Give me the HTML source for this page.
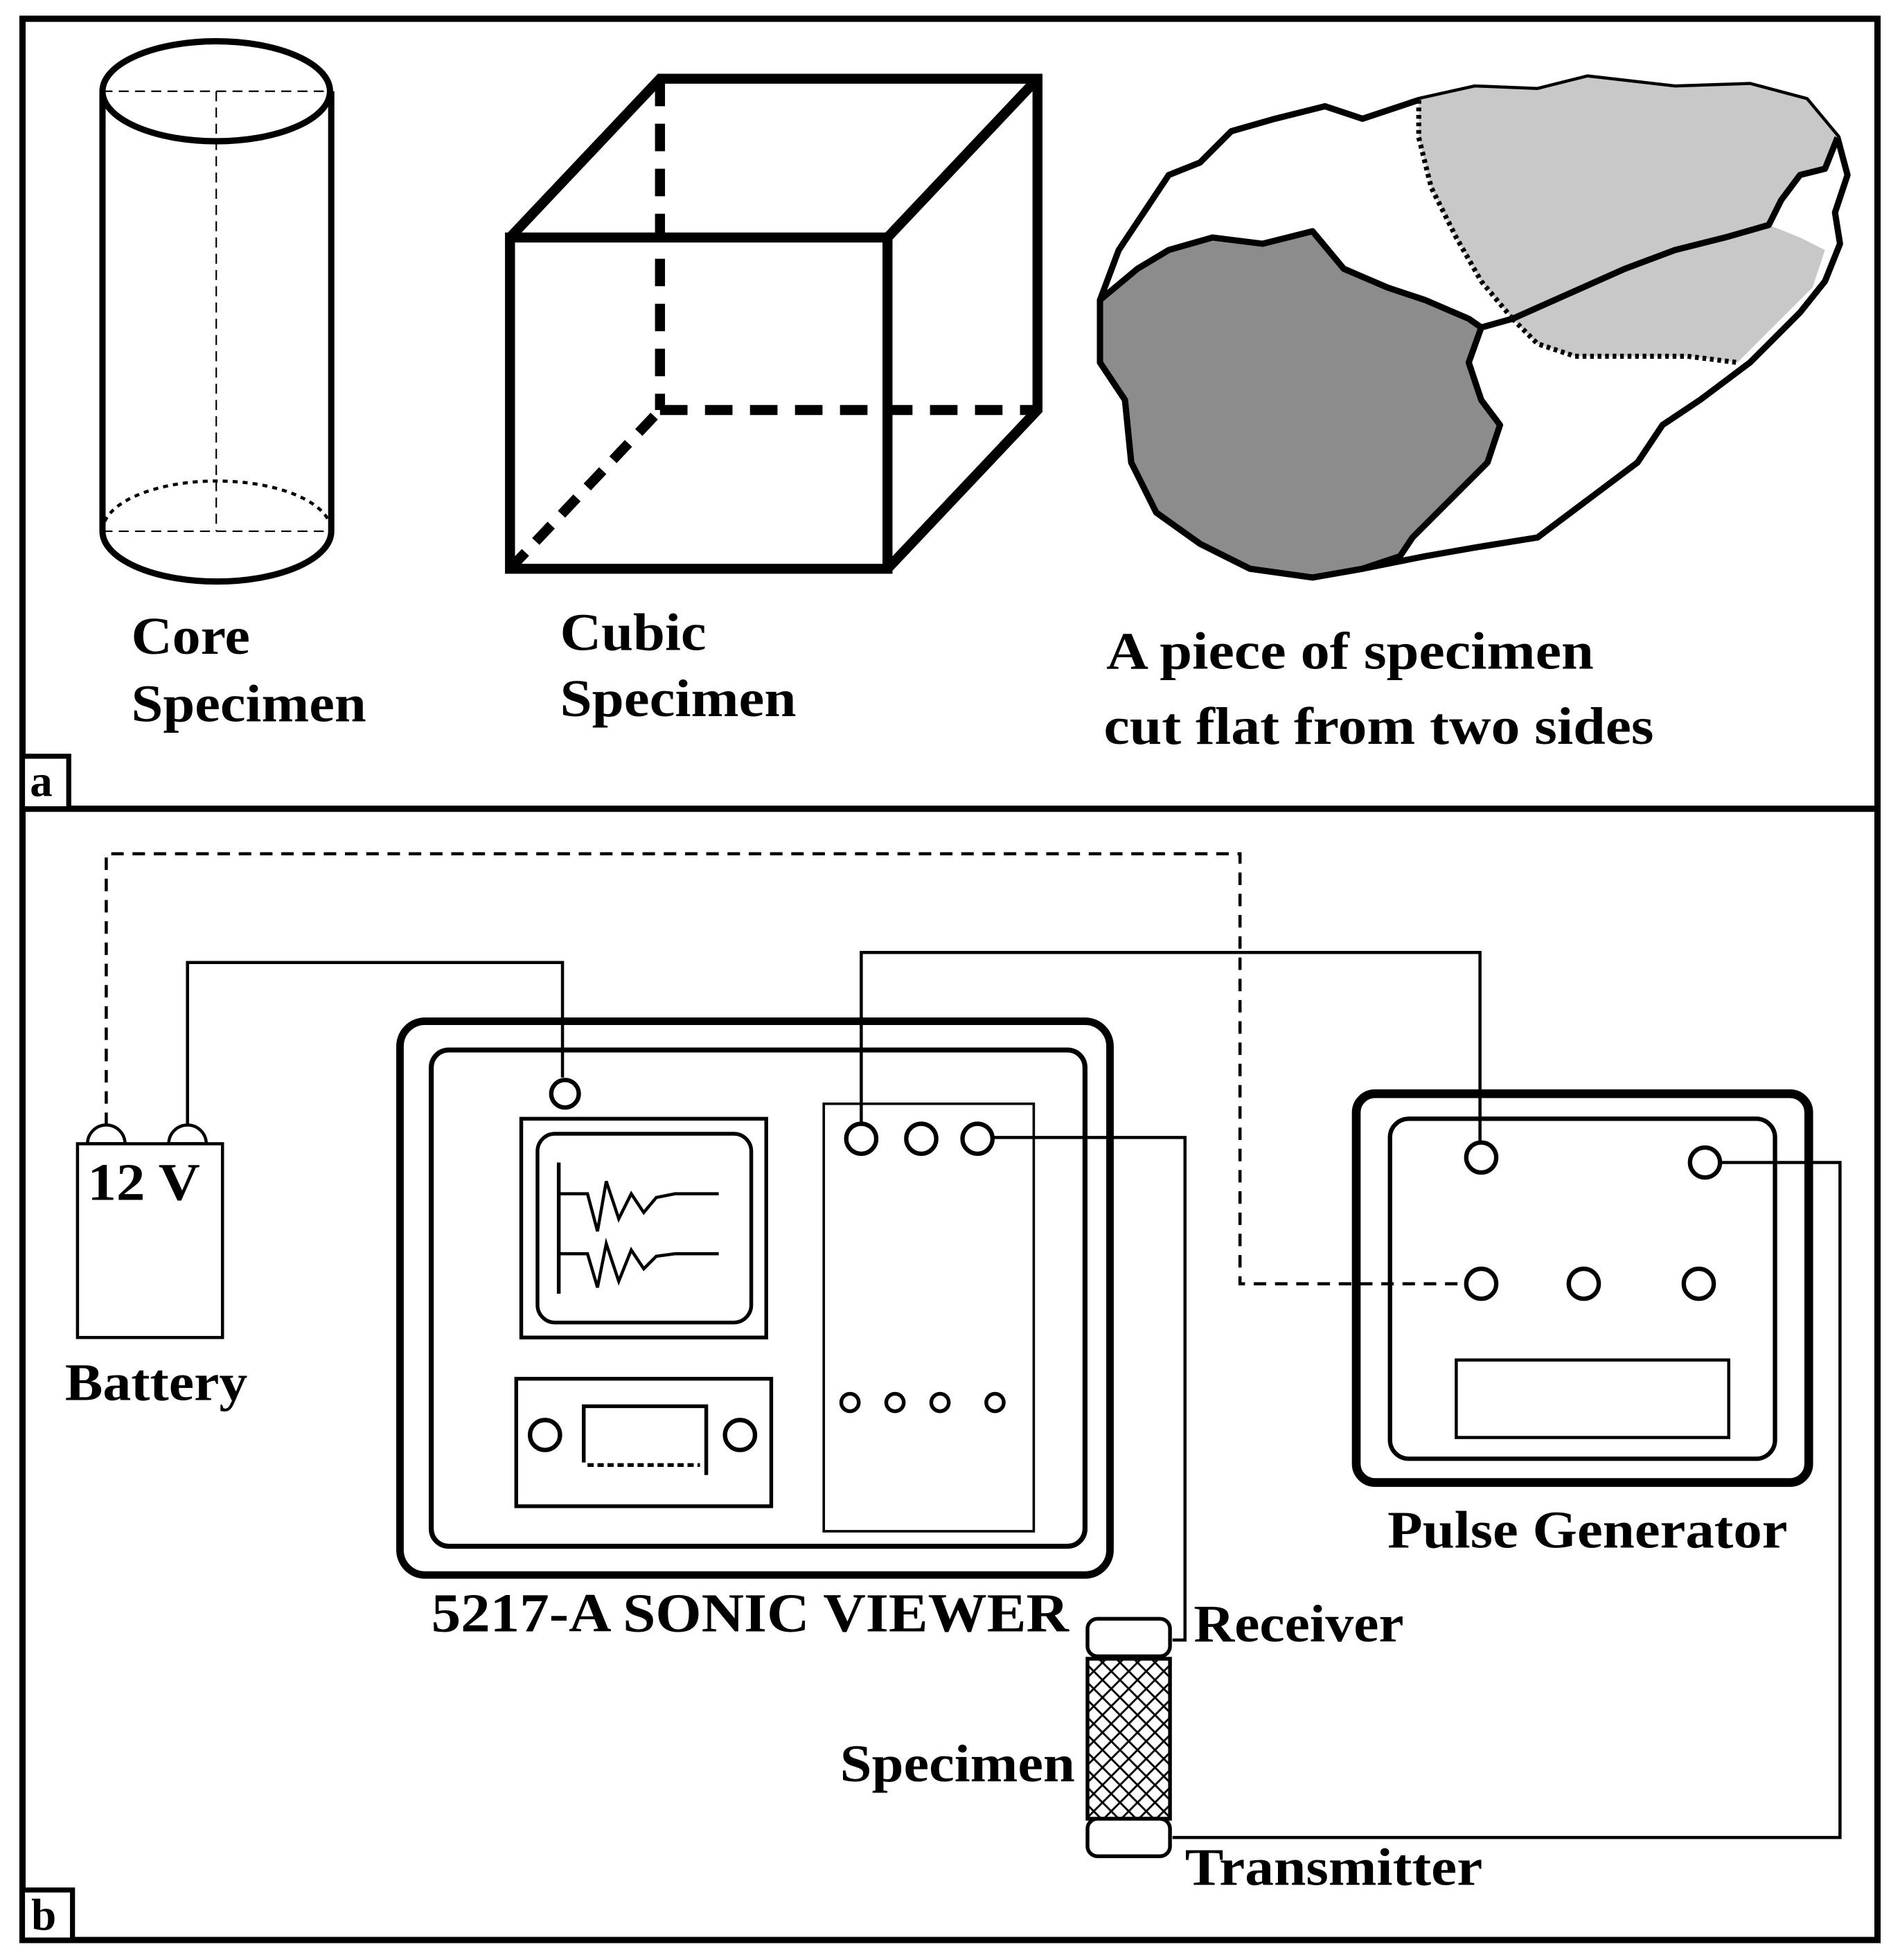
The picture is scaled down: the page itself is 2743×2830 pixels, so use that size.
<!DOCTYPE html>
<html><head><meta charset="utf-8"><style>
html,body{margin:0;padding:0;background:#fff}
svg{display:block}
text{font-family:"Liberation Serif",serif;font-weight:bold;fill:#000}
</style></head><body>
<svg width="2743" height="2830" viewBox="0 0 1520 1568" preserveAspectRatio="none" xmlns="http://www.w3.org/2000/svg">
<defs>
<pattern id="hatch" width="14" height="14" patternUnits="userSpaceOnUse">
<path d="M0 0L14 14M14 0L0 14" stroke="#000" stroke-width="1.6"/>
</pattern>
</defs>
<rect width="1520" height="1568" fill="#fff"/>
<rect x="18" y="15" width="1484" height="1537" fill="none" stroke="#000" stroke-width="5"/>
<line x1="18" y1="647" x2="1502" y2="647" stroke="#000" stroke-width="5"/>
<rect x="18" y="605" width="37" height="42" fill="#fff" stroke="#000" stroke-width="4"/>
<text x="24" y="637" font-size="36">a</text>
<rect x="18" y="1512" width="40" height="40" fill="#fff" stroke="#000" stroke-width="4"/>
<text x="25" y="1544" font-size="36">b</text>

<g fill="none" stroke="#000">
<line x1="173" y1="73" x2="173" y2="425" stroke-width="1.2" stroke-dasharray="8 5"/>
<line x1="82" y1="73" x2="265" y2="73" stroke-width="1.2" stroke-dasharray="8 5"/>
<line x1="82" y1="425" x2="265" y2="425" stroke-width="1.2" stroke-dasharray="8 5"/>
<ellipse cx="173" cy="73" rx="91" ry="40" stroke-width="5"/>
<line x1="82" y1="73" x2="82" y2="425" stroke-width="5"/>
<line x1="265" y1="73" x2="265" y2="425" stroke-width="5"/>
<path d="M82 425A91 40 0 0 0 265 425" stroke-width="5"/>
<path d="M82 425A91 40 0 0 1 265 425" stroke-width="2.5" stroke-dasharray="4 4"/>
</g>
<text x="105" y="523" font-size="42" textLength="95" lengthAdjust="spacingAndGlyphs">Core</text>
<text x="105" y="577" font-size="42" textLength="188" lengthAdjust="spacingAndGlyphs">Specimen</text>

<g fill="none" stroke="#000" stroke-width="8">
<line x1="528" y1="63" x2="528" y2="328" stroke-dasharray="22 14"/>
<line x1="528" y1="328" x2="830" y2="328" stroke-dasharray="22 14"/>
<line x1="408" y1="455" x2="528" y2="328" stroke-dasharray="18 12"/>
<rect x="408" y="190" width="302" height="265"/>
<path d="M408 190L528 63H830V328L710 455M710 190L830 63"/>
</g>
<text x="448" y="520" font-size="42" textLength="117" lengthAdjust="spacingAndGlyphs">Cubic</text>
<text x="448" y="573" font-size="42" textLength="189" lengthAdjust="spacingAndGlyphs">Specimen</text>

<g stroke="#000" stroke-linejoin="round">
<path d="M880 240L895 200L915 170L935 140L960 130L985 105L1020 95L1060 85L1090 95L1135 80L1180 70L1230 72L1270 62L1340 70L1400 68L1445 80L1470 110L1478 140L1468 170L1472 195L1460 225L1440 250L1400 290L1360 320L1330 340L1310 370L1270 400L1230 430L1180 438L1140 445L1090 455L1050 462L1000 455L960 435L925 410L905 370L900 320L880 290Z" fill="#fff" stroke-width="5"/>
<path d="M1135 80L1180 70L1230 72L1270 62L1340 70L1400 68L1445 80L1470 110L1460 135L1440 140L1425 160L1415 180L1380 190L1340 200L1300 215L1255 235L1210 255L1185 225L1165 190L1145 150L1135 110Z" fill="#c8c8c8" stroke="none"/>
<path d="M1210 255L1255 235L1300 215L1340 200L1380 190L1415 180L1440 190L1460 200L1450 230L1420 260L1390 290L1350 285L1300 285L1260 285L1230 275Z" fill="#c8c8c8" stroke="none"/>
<path d="M1135 80L1135 110L1145 150L1165 190L1185 225L1210 255" fill="none" stroke-width="4" stroke-dasharray="3 3"/>
<path d="M1210 255L1230 275L1260 285L1300 285L1350 285L1390 290" fill="none" stroke-width="4" stroke-dasharray="3 3"/>
<path d="M1470 110L1460 135L1440 140L1425 160L1415 180L1380 190L1340 200L1300 215L1255 235L1210 255L1185 262" fill="none" stroke-width="5"/>
<path d="M880 240L910 215L935 200L970 190L1010 195L1050 185L1075 215L1110 230L1140 240L1175 255L1185 262L1175 290L1185 320L1200 340L1190 370L1160 400L1130 430L1120 445L1090 455L1050 462L1000 455L960 435L925 410L905 370L900 320L880 290Z" fill="#8c8c8c" stroke-width="5"/>
</g>
<text x="885" y="535" font-size="42" textLength="390" lengthAdjust="spacingAndGlyphs">A piece of specimen</text>
<text x="883" y="595" font-size="42" textLength="440" lengthAdjust="spacingAndGlyphs">cut flat from two sides</text>

<g fill="none" stroke="#000" stroke-width="2.5">
<path d="M85 900V683H992V1027H1172" stroke-dasharray="10 7"/>
<path d="M150 900V770H450V862"/>
<path d="M689 899V762H1184V913"/>
<path d="M794 910H948V1312H938"/>
<path d="M1376 930H1472V1470H938"/>
</g>

<g fill="#fff" stroke="#000" stroke-width="2.5">
<path d="M70 915A15 15 0 0 1 100 915Z"/>
<path d="M135 915A15 15 0 0 1 165 915Z"/>
<rect x="62" y="915" width="116" height="155"/>
</g>
<text x="70" y="960" font-size="42" textLength="90" lengthAdjust="spacingAndGlyphs">12 V</text>
<text x="52" y="1120" font-size="42" textLength="146" lengthAdjust="spacingAndGlyphs">Battery</text>

<g fill="none" stroke="#000">
<rect x="320" y="817" width="568" height="443" rx="20" stroke-width="6"/>
<rect x="345" y="840" width="523" height="397" rx="14" stroke-width="4"/>
<circle cx="452" cy="875" r="11" stroke-width="3.5"/>
<rect x="417" y="895" width="196" height="175" stroke-width="3"/>
<rect x="430" y="907" width="171" height="151" rx="14" stroke-width="3"/>
<line x1="447" y1="930" x2="447" y2="1035" stroke-width="3"/>
<path d="M447 955H470L478 985L485 945L495 975L505 955L515 970L525 958L540 955H575" stroke-width="2.5"/>
<path d="M447 1003H470L478 1030L485 995L495 1025L505 1000L515 1015L525 1005L540 1003H575" stroke-width="2.5"/>
<rect x="413" y="1103" width="204" height="102" stroke-width="3"/>
<circle cx="436" cy="1148" r="12" stroke-width="3.5"/>
<circle cx="592" cy="1148" r="12" stroke-width="3.5"/>
<path d="M467 1170V1125H565V1180" stroke-width="3"/>
<path d="M470 1172H560" stroke-width="3" stroke-dasharray="5 3"/>
<rect x="659" y="883" width="168" height="342" stroke-width="2"/>
<circle cx="689" cy="911" r="12" stroke-width="3.5"/>
<circle cx="737" cy="911" r="12" stroke-width="3.5"/>
<circle cx="782" cy="911" r="12" stroke-width="3.5"/>
<circle cx="680" cy="1122" r="7" stroke-width="3"/>
<circle cx="716" cy="1122" r="7" stroke-width="3"/>
<circle cx="752" cy="1122" r="7" stroke-width="3"/>
<circle cx="796" cy="1122" r="7" stroke-width="3"/>
</g>
<text x="345" y="1305" font-size="44" textLength="510" lengthAdjust="spacingAndGlyphs">5217-A SONIC VIEWER</text>

<g fill="none" stroke="#000">
<rect x="1085" y="875" width="362" height="311" rx="15" stroke-width="7"/>
<rect x="1112" y="895" width="308" height="272" rx="15" stroke-width="3.5"/>
<circle cx="1185" cy="926" r="12" stroke-width="3.5"/>
<circle cx="1364" cy="930" r="12" stroke-width="3.5"/>
<circle cx="1185" cy="1027" r="12" stroke-width="3.5"/>
<circle cx="1267" cy="1027" r="12" stroke-width="3.5"/>
<circle cx="1359" cy="1027" r="12" stroke-width="3.5"/>
<rect x="1165" y="1088" width="218" height="62" stroke-width="2.5"/>
</g>
<text x="1110" y="1238" font-size="42" textLength="320" lengthAdjust="spacingAndGlyphs">Pulse Generator</text>

<g stroke="#000" stroke-width="3">
<rect x="870" y="1295" width="66" height="30" rx="8" fill="#fff"/>
<rect x="870" y="1327" width="66" height="128" fill="url(#hatch)"/>
<rect x="870" y="1455" width="66" height="30" rx="8" fill="#fff"/>
</g>
<text x="955" y="1313" font-size="42" textLength="168" lengthAdjust="spacingAndGlyphs">Receiver</text>
<text x="672" y="1425" font-size="42" textLength="188" lengthAdjust="spacingAndGlyphs">Specimen</text>
<text x="948" y="1508" font-size="42" textLength="238" lengthAdjust="spacingAndGlyphs">Transmitter</text>
</svg>
</body></html>
